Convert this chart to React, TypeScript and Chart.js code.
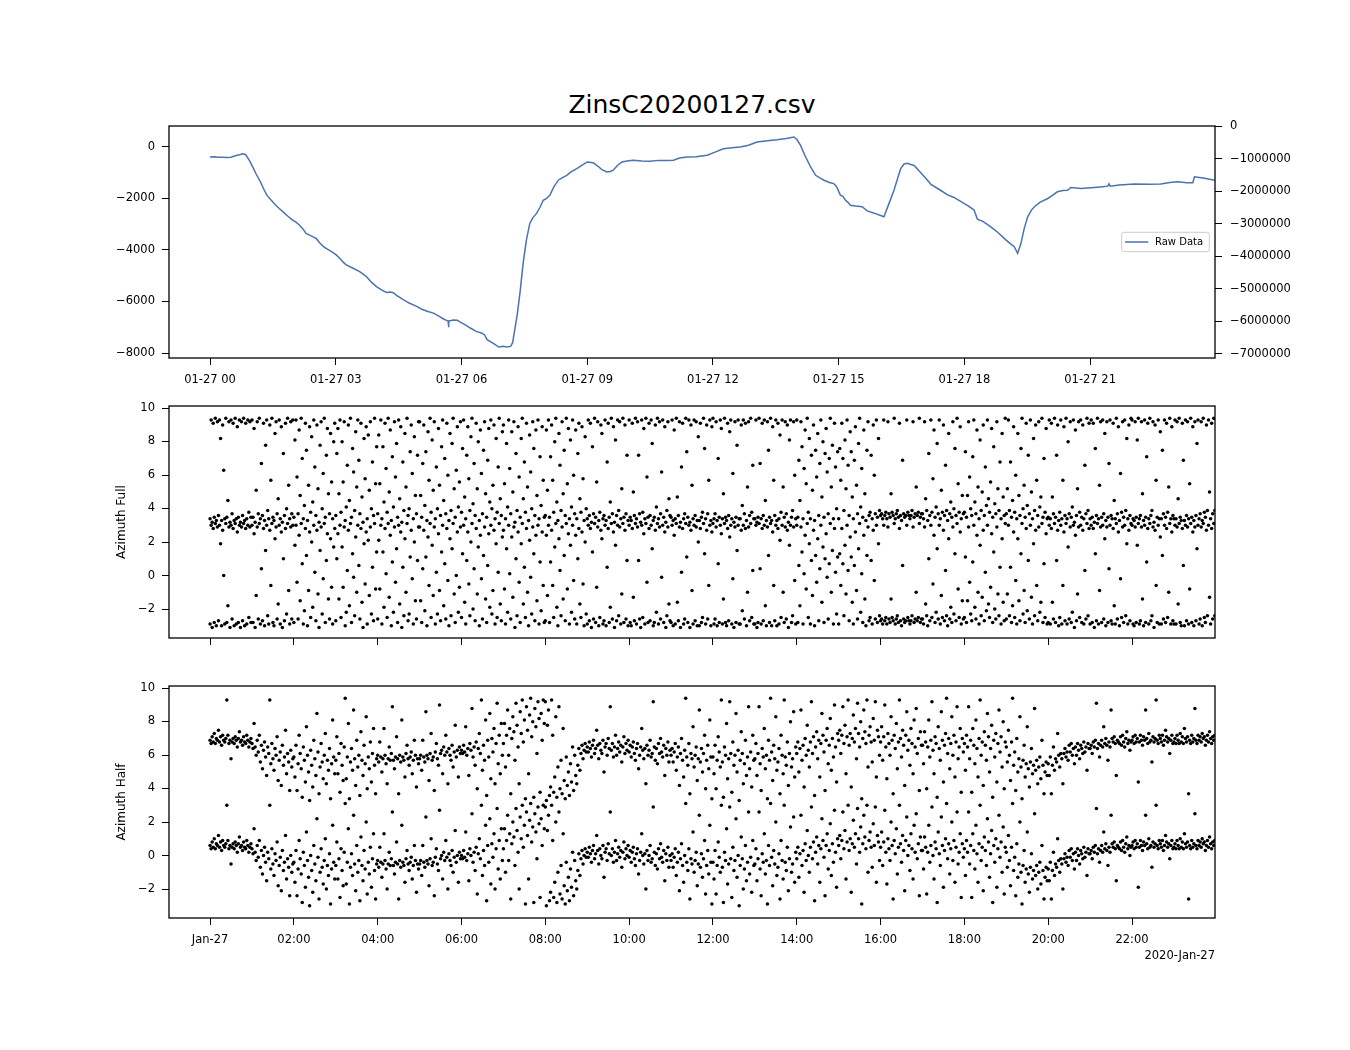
import { useEffect, useRef } from 'react';
import { Chart, registerables } from 'chart.js';

Chart.register(...registerables);

const FONT = 'DejaVu Sans';
const BLUE = '#4c72b0';
const TWO_PI = 2 * Math.PI;

// shared time range (hours since 2020-01-27 00:00)
const X_MIN = -0.98;
const X_MAX = 23.98;

// ---- top panel: raw data ----
const LINE_TIMES = [
  0, 0.1, 0.2, 0.3, 0.4, 0.5, 0.6, 0.7, 0.78, 0.85,
  0.95, 1.02, 1.1, 1.2, 1.3, 1.36, 1.45, 1.55, 1.65, 1.75,
  1.85, 1.97, 2.05, 2.13, 2.22, 2.29, 2.4, 2.53, 2.62, 2.7,
  2.77, 2.9, 3.01, 3.1, 3.18, 3.25, 3.4, 3.57, 3.73, 3.85,
  3.97, 4.1, 4.21, 4.3, 4.37, 4.45, 4.61, 4.75, 4.93, 5.05,
  5.2, 5.33, 5.45, 5.55, 5.65, 5.68, 5.69, 5.7, 5.81, 5.9,
  5.97, 6.1, 6.21, 6.35, 6.49, 6.55, 6.61, 6.75, 6.89, 7.0,
  7.08, 7.17, 7.22, 7.27, 7.33, 7.4, 7.47, 7.55, 7.63, 7.7,
  7.79, 7.87, 7.95, 8.03, 8.11, 8.2, 8.31, 8.4, 8.51, 8.62,
  8.75, 8.88, 9.0, 9.1, 9.15, 9.25, 9.35, 9.47, 9.55, 9.62,
  9.72, 9.83, 9.95, 10.1, 10.3, 10.5, 10.7, 10.9, 11.06, 11.2,
  11.38, 11.6, 11.86, 12.05, 12.25, 12.45, 12.65, 12.85, 13.05, 13.3,
  13.53, 13.75, 13.93, 14.0, 14.09, 14.2, 14.33, 14.45, 14.55, 14.65,
  14.78, 14.88, 14.93, 14.97, 15.04, 15.1, 15.16, 15.22, 15.28, 15.4,
  15.56, 15.68, 15.85, 16.0, 16.08, 16.2, 16.32, 16.4, 16.48, 16.56,
  16.64, 16.72, 16.8, 16.96, 17.12, 17.2, 17.43, 17.6, 17.75, 17.99,
  18.1, 18.23, 18.31, 18.45, 18.63, 18.8, 18.95, 19.1, 19.19, 19.27,
  19.35, 19.43, 19.51, 19.6, 19.67, 19.8, 19.99, 20.1, 20.22, 20.35,
  20.46, 20.54, 20.78, 21.1, 21.3, 21.42, 21.45, 21.48, 21.7, 22.05,
  22.4, 22.69, 22.9, 23.09, 23.3, 23.45, 23.49, 23.7, 23.97,
];
const LINE_VALUES = [
  -390, -380, -395, -400, -405, -395, -340, -300, -260, -300,
  -560, -780, -1050, -1350, -1700, -1880, -2050, -2230, -2390, -2530,
  -2680, -2840, -2920, -3030, -3190, -3360, -3440, -3550, -3730, -3860,
  -3940, -4060, -4190, -4330, -4480, -4580, -4700, -4840, -5030, -5250,
  -5420, -5560, -5650, -5630, -5660, -5760, -5930, -6060, -6190, -6300,
  -6390, -6450, -6560, -6660, -6740, -6750, -7000, -6760, -6720, -6730,
  -6800, -6920, -7030, -7160, -7230, -7300, -7480, -7620, -7770, -7740,
  -7770, -7745, -7600, -7100, -6500, -5600, -4520, -3600, -2970, -2750,
  -2580, -2350, -2070, -2000, -1870, -1560, -1290, -1200, -1100, -960,
  -840, -700, -580, -600, -620, -740, -880, -970, -950, -900,
  -720, -580, -540, -515, -540, -555, -520, -525, -515, -430,
  -390, -380, -320, -200, -70, -30, 0, 70, 190, 240,
  280, 330, 390, 300, 60, -350, -770, -1100, -1200, -1290,
  -1380, -1420, -1500, -1610, -1870, -1920, -2060, -2150, -2260, -2290,
  -2320, -2480, -2570, -2660, -2710, -2200, -1680, -1250, -840, -660,
  -630, -680, -720, -1000, -1290, -1450, -1680, -1860, -1960, -2190,
  -2300, -2450, -2800, -2900, -3100, -3320, -3550, -3760, -3870, -4130,
  -3740, -3150, -2710, -2450, -2320, -2150, -2000, -1880, -1740, -1690,
  -1680, -1570, -1610, -1570, -1540, -1520, -1430, -1520, -1480, -1440,
  -1450, -1440, -1380, -1350, -1390, -1390, -1160, -1200, -1290,
];

const TOP_X_TICKS = [0, 3, 6, 9, 12, 15, 18, 21];
const TOP_X_LABELS = ['01-27 00', '01-27 03', '01-27 06', '01-27 09', '01-27 12', '01-27 15', '01-27 18', '01-27 21'];
const TOP_Y_TICKS = [0, -2000, -4000, -6000, -8000];
const TOP_Y2_TICKS = [0, -1000000, -2000000, -3000000, -4000000, -5000000, -6000000, -7000000];

// ---- azimuth panels: one sample every 90 s, radians, one row per hour ----
const SAMPLE_STEP_H = 1 / 40;
const AZ_Y_TICKS = [10, 8, 6, 4, 2, 0, -2];
const BOTTOM_X_TICKS = [0, 2, 4, 6, 8, 10, 12, 14, 16, 18, 20, 22];
const BOTTOM_X_LABELS = ['Jan-27', '02:00', '04:00', '06:00', '08:00', '10:00', '12:00', '14:00', '16:00', '18:00', '20:00', '22:00'];

const AZIMUTH_FULL = [
  -2.9,3.0,-3.1,2.8,-2.8,3.1,-3.0,2.9,-2.7,3.0,1.9,-3.0,2.7,0.0,-2.9,3.1,-2.8,-1.8,2.9,-3.1,3.0,-2.6,2.8,-3.0,3.1,-2.9,2.6,-2.8,3.0,-3.1,2.9,-2.7,3.1,-3.0,2.8,-2.9,3.0,-2.5,2.9,-2.8,
  3.0,-2.8,2.5,-3.1,-1.2,2.9,-2.6,3.1,-2.9,0.4,-2.7,2.8,-3.0,1.5,3.0,-2.4,-2.9,2.7,-0.6,3.1,-2.8,-3.0,2.2,2.9,-2.6,-1.7,3.0,-2.9,2.6,-3.1,1.0,-2.7,2.8,-2.3,3.1,-0.9,-2.9,2.9,-2.6,3.0,
  -2.8,1.8,3.0,-0.4,-2.6,2.4,-1.5,3.1,0.7,-2.9,-2.1,2.8,1.2,-3.0,-0.9,2.6,-2.5,2.0,-1.9,3.0,0.2,-2.7,2.7,-1.1,-3.1,1.5,2.9,-2.3,-0.2,3.1,-2.8,0.9,2.5,-1.4,-2.6,2.2,-0.7,-2.9,1.7,2.8,
  -2.7,1.0,2.5,-1.4,3.0,-2.5,1.7,-0.7,2.9,-3.0,-2.2,0.3,2.7,-1.8,3.1,-2.8,1.3,-0.1,-2.4,2.3,-1.0,3.0,0.6,-2.6,2.8,-1.6,-3.1,1.9,-0.5,2.6,-2.9,2.1,-1.2,2.9,-2.3,0.5,-2.7,3.1,-0.8,1.4,
  -2.6,2.1,-0.8,3.0,-2.9,1.4,-1.9,2.8,0.1,-2.5,3.1,-1.3,2.4,-3.0,0.8,-2.2,2.9,-0.4,1.6,-2.8,3.0,-1.7,2.6,-3.1,0.5,-2.4,2.2,-1.0,3.1,-2.7,-2.3,1.1,2.7,-0.2,-2.9,2.0,-1.5,-2.6,0.9,2.9,
  2.9,-1.5,-2.8,0.4,2.7,-2.1,1.1,-3.0,2.3,-0.6,3.1,-2.5,1.8,-1.2,2.9,-2.9,0.2,-2.3,2.5,-0.9,-2.7,1.4,3.0,-1.8,0.7,-2.6,2.8,-0.3,-3.0,2.2,-2.4,1.6,3.1,-1.1,-2.8,0.0,2.6,-2.2,-0.7,2.9,
  -2.5,1.3,3.0,-1.6,-2.9,0.9,2.6,-0.5,-2.4,2.0,3.1,-2.0,0.4,-2.7,2.8,-1.1,1.7,-3.0,2.4,-0.2,-2.6,1.2,2.9,-1.4,-2.8,0.6,2.5,-1.9,3.0,-2.3,-0.9,2.7,-2.9,1.9,-2.5,0.2,3.1,-1.7,-2.7,2.3,
  2.7,-0.8,-2.9,1.6,-2.2,3.0,0.1,-2.6,2.3,-1.3,2.9,-3.1,1.0,-2.4,2.6,-0.4,-2.8,1.9,3.1,-1.7,0.5,-2.5,2.8,-1.0,-3.0,2.1,-0.1,-2.3,2.9,1.3,-2.7,2.4,-1.5,3.0,-2.9,0.8,-2.1,2.6,-0.6,-2.8,
  -2.7,2.4,-1.2,3.0,-2.8,0.8,2.7,-0.6,-2.5,1.7,3.1,-1.9,-3.0,2.2,0.3,-2.4,2.9,-1.4,1.2,-2.7,3.1,-0.8,2.5,-2.9,1.8,-2.2,3.0,-0.3,-2.6,2.4,-2.9,1.0,2.8,-1.7,-2.5,2.6,-0.5,-3.0,2.0,-2.3,
  -2.9,3.0,-2.7,2.8,-3.1,1.4,-2.6,3.1,-2.8,-0.7,2.9,-3.0,-2.5,2.7,2.2,-2.9,-2.7,3.0,-3.0,0.5,2.8,-2.8,-1.9,3.1,-2.6,2.6,-3.1,1.8,-2.7,3.0,-2.4,2.9,-2.9,-1.1,3.1,-2.8,2.7,-2.6,0.9,-3.0,
  3.0,-2.8,-3.0,2.8,-1.3,-2.7,3.1,-2.9,2.9,0.9,-2.6,-3.1,3.0,-2.5,2.5,-2.9,3.1,-0.4,-2.8,2.8,-2.7,3.0,1.6,-3.0,-2.8,2.7,-2.2,3.1,-2.9,2.9,-2.6,-0.1,3.0,-2.8,2.6,-3.1,-2.4,2.9,-1.7,-2.7,
  -2.8,3.0,-3.0,2.4,-2.9,3.1,-1.6,-2.7,2.9,-3.1,0.2,2.8,-2.9,-2.6,3.1,1.1,-2.8,3.0,-3.1,2.7,-0.9,-2.9,3.0,-2.7,2.9,-3.0,2.0,-3.0,2.8,-2.8,-2.5,3.1,1.3,-2.9,2.7,-2.6,-0.6,3.0,-3.0,2.6,
  3.1,-2.9,-2.6,2.9,-3.0,0.7,-2.8,3.0,2.5,-2.9,-1.4,3.1,-2.8,-3.0,2.8,-2.7,2.3,3.0,-2.9,-0.2,-3.1,2.9,-2.8,1.5,3.0,-2.9,-2.9,2.7,-2.1,3.0,-2.6,2.8,-3.0,-1.0,2.9,-2.7,3.1,-2.5,0.3,-2.9,
  -2.9,3.0,-3.1,-2.8,3.1,0.4,-2.9,2.8,-2.7,3.0,-1.8,-3.0,2.9,1.2,-2.8,3.1,-3.0,2.6,-0.6,-2.7,3.0,-3.0,2.8,-2.9,2.1,-2.5,3.0,-1.0,-2.8,2.9,-2.6,2.7,-3.1,1.8,3.0,-2.8,-2.4,2.9,-0.3,-2.9,
  3.0,-2.8,0.6,-1.8,2.9,1.4,-2.9,0.1,2.4,-0.8,3.1,-2.5,1.9,-2.9,0.9,-1.2,2.7,-3.0,1.2,-0.4,2.2,-2.7,0.4,3.0,-1.6,1.7,-2.8,1.0,2.5,-0.1,-2.6,0.7,3.1,-1.0,1.5,-2.9,2.8,0.2,-2.3,1.1,
  -2.9,1.3,-0.6,2.8,0.7,-2.4,1.8,-1.1,3.0,0.3,-2.7,2.3,1.1,-1.6,-2.9,0.6,2.6,-0.9,-2.6,1.6,3.1,-2.2,0.1,-2.8,2.4,-1.4,-3.0,1.2,2.9,-2.7,-2.5,0.9,-2.9,2.7,-0.3,-2.6,3.0,-2.8,1.9,-2.4,
  -2.7,-2.6,-2.9,3.0,-2.7,-2.5,-2.9,2.9,-2.6,-2.8,-1.4,-2.5,-2.7,3.1,-2.9,-2.6,-2.4,-2.8,2.8,-2.7,-3.0,0.6,-2.6,-2.8,-2.7,3.0,-2.5,-2.7,-2.9,-2.7,-2.4,2.9,-2.8,-2.6,-1.0,-2.7,-2.5,3.1,-2.8,-2.6,
  -2.6,-2.9,2.9,-1.7,-2.4,-3.0,1.0,-2.7,3.0,-2.5,-0.5,2.4,-2.8,-2.2,1.6,-2.6,3.0,-2.9,-1.2,-2.5,2.7,-2.7,0.3,-2.4,-3.0,2.2,-2.6,-1.9,-2.8,2.9,-2.3,1.3,-2.7,3.1,-0.8,-2.5,2.6,-2.9,-1.5,-2.6,
  -2.5,1.1,-2.8,-1.5,2.9,-0.4,-2.3,-2.7,0.8,3.0,-1.9,-2.6,2.4,-1.0,-2.9,1.8,-2.4,-1.3,2.7,-2.7,0.2,-2.1,3.0,-1.7,-2.5,-0.7,2.5,-2.8,1.4,-2.0,-2.6,2.9,-1.1,-2.4,0.5,-2.9,2.2,-1.6,-2.7,3.1,
  -2.6,-1.1,3.0,-2.4,0.5,-2.8,-1.8,2.6,-2.5,-0.3,-2.9,2.2,-1.5,-2.7,1.3,3.1,-2.3,-0.9,-2.8,2.8,-2.1,0.9,-2.6,3.0,-1.3,-2.9,1.9,-2.4,2.7,-0.6,-2.7,2.9,-2.2,-1.6,3.1,-2.8,0.7,-2.5,2.5,-2.9,
  -2.8,3.0,-2.9,2.8,-1.6,-2.6,3.1,-2.8,0.9,2.7,-3.0,-2.5,3.0,-2.9,-0.6,2.6,-2.7,3.1,-2.9,1.7,-2.6,2.9,-2.8,-2.2,3.0,-3.1,2.4,-2.7,-1.1,2.9,-2.5,3.0,-2.8,2.7,-2.9,0.3,-2.6,3.1,-2.4,2.8,
  -2.9,3.0,-2.8,2.8,-3.1,1.3,-2.7,3.1,-2.9,-0.9,2.9,-2.8,3.0,-2.6,2.2,-3.0,2.9,-2.8,0.4,3.0,-2.7,-2.9,2.8,-1.8,-2.9,3.1,-2.6,2.6,-3.0,-0.2,-2.5,2.9,-2.8,3.0,-2.4,1.9,-2.9,2.7,-2.7,3.1,
  3.0,-2.9,-3.0,2.9,-2.8,1.8,3.1,-2.9,-2.7,2.9,-1.4,-3.0,3.0,-2.8,0.8,2.8,-2.9,3.1,-2.7,-2.4,2.9,-3.1,2.7,-0.6,-2.8,3.0,-2.9,2.3,-2.9,1.2,-2.6,3.0,-2.8,2.8,-2.5,-1.0,3.1,-2.9,2.6,-2.7,
  -2.9,3.0,-2.9,2.9,-1.7,3.1,-2.8,-3.0,2.8,0.6,-3.0,3.0,-2.7,2.9,-2.9,-0.8,3.1,-2.8,2.6,-3.0,2.9,-2.7,1.6,3.0,-2.9,-2.6,2.9,-3.0,3.1,-2.5,-2.8,2.7,-2.4,3.0,-1.3,-2.9,2.8,-2.6,3.1,-2.4,
];

const AZIMUTH_HALF = [
  0.6,0.4,0.8,0.5,1.0,0.4,0.7,0.6,1.2,0.5,0.8,0.3,0.9,0.6,0.5,0.7,3.0,0.9,0.4,0.6,-0.5,0.5,0.7,0.4,0.8,0.6,0.2,0.7,1.1,0.5,0.6,0.3,0.8,0.5,0.4,0.9,0.6,0.2,0.5,0.7,
  0.4,0.1,1.6,0.2,-0.3,0.6,-0.1,0.9,-0.7,0.3,-1.1,0.0,0.5,-0.4,-1.5,0.2,-0.2,3.0,-0.8,0.4,-0.5,-1.2,0.1,-0.3,0.8,-1.8,-0.6,-0.1,-2.1,0.3,-0.9,-0.4,1.2,-1.4,-0.2,-0.7,-2.4,0.0,-1.0,-0.5,
  -0.4,-1.6,0.3,-2.4,-0.8,0.9,-0.2,-1.1,-2.8,0.2,-0.6,-1.9,1.4,-0.3,-1.3,-3.0,0.0,-0.9,-2.2,0.6,-0.5,-1.5,2.2,-0.1,-2.6,-1.0,0.4,-0.7,-1.7,-0.3,1.0,-2.0,-0.6,-1.2,0.1,-2.9,-0.8,1.8,-0.4,-1.4,
  -0.6,0.8,-1.4,-0.2,-2.5,0.4,-0.9,-1.8,0.2,3.1,-1.7,-0.4,1.6,-2.9,-0.7,0.1,-1.2,2.4,-0.5,-2.1,0.6,-1.0,-0.3,-2.7,1.1,-0.6,-1.5,0.3,-0.8,2.0,-2.3,-0.4,-1.1,0.5,-1.9,-0.2,1.3,-0.9,-2.6,-0.5,
  -0.3,-0.7,0.5,-0.4,-1.3,-0.5,1.3,-0.3,-0.8,-2.0,-0.5,0.2,-0.6,-0.2,2.6,-0.6,-1.1,-0.4,0.8,-0.5,-2.6,-0.3,-0.7,1.8,-0.4,-0.6,-1.6,-0.2,0.3,-0.5,-0.9,-0.4,-0.1,-1.4,-0.6,0.6,-0.3,-2.2,-0.5,-0.8,
  -0.5,-0.3,-1.2,0.6,-0.4,-0.7,2.3,-0.3,-0.5,-1.8,-0.2,1.0,-0.6,-0.4,-2.4,-0.1,0.4,-0.5,-0.9,2.7,-0.2,0.0,-1.4,0.2,-0.3,0.9,-0.1,-2.0,0.1,-0.3,-0.6,0.3,-1.0,-0.1,1.5,-0.4,0.0,-1.6,0.2,-0.2,
  0.0,-0.2,0.3,-0.1,1.4,-0.3,0.1,-1.5,0.4,0.0,2.5,-0.4,0.2,-0.9,0.5,-2.3,0.1,1.0,-0.2,3.0,-1.2,0.3,-0.6,1.8,-2.7,0.6,-0.4,2.2,-1.7,0.7,-0.1,1.3,-2.0,0.4,2.8,-0.8,0.9,-1.4,1.6,-0.3,
  0.4,1.6,-1.0,0.9,2.4,-0.3,1.3,-2.6,0.7,2.0,1.1,-0.6,2.8,1.5,0.2,-2.0,2.3,1.0,3.0,0.5,1.8,-2.9,2.6,1.2,-1.4,2.1,3.1,0.8,1.7,-2.8,2.5,1.4,-0.2,2.9,1.9,-2.5,2.2,0.6,3.0,1.6,
  2.9,-3.0,1.5,2.4,-2.7,-2.2,3.0,0.9,-2.5,-1.6,2.0,-2.8,-1.0,2.6,-2.3,-0.6,-2.6,1.3,-1.8,-2.9,-0.4,-2.1,-1.3,-2.7,-0.8,-1.9,0.2,-2.4,-0.3,-1.5,-2.0,-0.9,0.1,-1.2,-0.2,0.3,-0.5,0.0,0.4,-0.1,
  0.2,-0.1,0.5,0.1,-0.4,0.3,0.6,-0.2,0.1,1.2,0.3,-0.5,0.4,0.0,-0.2,0.6,-1.3,0.2,0.4,-0.3,0.7,0.1,2.6,0.0,0.4,-0.4,0.2,0.9,-0.3,0.1,0.5,-0.1,0.3,-0.7,0.2,0.8,-0.2,0.4,0.0,0.6,
  -0.1,0.3,-0.4,0.2,0.5,-0.2,-0.6,0.1,0.4,-1.1,-0.3,0.2,1.3,0.0,-0.5,0.1,-2.0,0.3,-0.3,0.0,0.6,-0.4,-0.2,2.9,0.2,-0.6,0.1,-0.8,0.4,-0.2,0.7,-0.1,-0.4,0.3,-1.5,0.1,-0.3,0.5,-0.7,0.0,
  -0.3,0.1,-0.7,-0.1,0.4,-1.2,-0.4,0.2,-2.1,-0.2,0.7,-0.6,-1.6,0.0,3.1,-0.4,-0.9,0.4,-2.6,-0.2,-0.5,1.4,-1.0,-0.3,0.2,-1.8,-0.5,2.4,-0.7,0.1,-1.3,-0.2,0.9,-2.3,-0.6,0.3,-1.1,1.8,-0.4,-2.9,
  -0.4,-1.4,0.3,-2.3,-0.6,0.8,-0.1,-1.0,3.0,-0.7,-2.8,0.2,-0.3,1.6,-1.7,-0.5,2.9,-0.2,-2.5,0.5,-0.9,-0.3,2.2,-1.3,0.0,-3.0,-0.6,1.1,-0.2,-2.0,-0.8,0.6,-1.5,-0.4,2.6,-1.1,-0.1,-2.2,0.9,-0.6,
  -0.5,0.4,-1.5,-0.2,2.6,-0.8,-2.4,0.1,-0.4,1.3,-1.1,-0.3,-2.9,0.6,-0.6,3.1,-0.1,-1.8,0.3,-0.5,2.0,-1.2,-0.7,0.1,-2.6,0.9,-0.3,-1.4,3.0,-0.4,-0.9,0.5,-2.1,-0.2,1.7,-1.0,-0.5,2.3,-1.6,0.2,
  -0.2,0.5,-1.3,0.1,2.4,-0.6,0.3,-2.2,0.7,-0.3,1.5,0.0,-1.0,0.5,2.9,-0.2,0.8,-2.7,0.2,1.1,-0.5,0.6,-1.6,0.4,2.2,0.9,-0.1,-2.4,0.6,1.3,-0.8,0.3,1.9,-1.2,0.7,-0.4,2.7,0.2,-1.9,1.0,
  0.6,1.2,-0.2,0.9,2.6,0.4,1.5,-1.4,0.8,3.0,0.3,1.0,-2.2,0.7,2.1,0.5,1.3,-0.5,2.8,1.0,0.2,1.7,-2.9,0.7,2.4,1.1,0.4,3.0,-1.0,0.9,1.4,0.5,-0.7,1.9,0.6,2.9,-1.6,1.2,0.8,-0.3,
  0.5,1.4,-0.6,0.8,2.7,0.2,-1.7,1.0,0.4,-0.3,2.0,0.6,-2.6,0.9,0.1,1.6,-1.1,0.5,3.0,0.7,-0.4,1.2,0.3,-2.1,0.9,2.3,0.0,0.6,-0.9,1.3,0.4,-1.4,1.8,0.2,2.5,-0.2,0.7,-2.4,1.1,0.3,
  0.3,-0.8,1.1,0.5,-2.3,0.2,1.8,-0.4,0.6,2.9,0.0,-1.4,0.8,0.4,-2.8,1.4,0.1,-0.6,2.3,0.6,-1.9,0.3,1.0,3.1,-0.2,0.7,-1.1,0.4,2.0,-0.3,0.9,-1.6,0.5,2.6,-0.5,0.2,1.3,-2.5,0.7,-0.1,
  0.4,-1.2,0.9,0.2,2.6,-0.5,0.6,-2.5,1.3,0.3,-0.8,1.8,0.1,-1.6,0.7,3.0,-0.3,0.5,-2.1,1.1,0.3,-0.6,2.2,0.8,-1.3,0.1,1.5,-2.8,0.6,-0.4,1.0,-1.9,0.4,2.4,-0.1,0.8,-1.0,1.7,-2.3,0.5,
  0.2,-0.7,1.2,-0.3,-1.8,0.5,3.1,-0.9,-0.1,-2.4,0.7,-1.3,-0.5,2.0,-1.0,-2.9,-0.6,0.3,-1.6,-0.8,1.4,-1.1,-2.2,-0.7,0.1,-1.4,-0.9,2.5,-1.2,-0.6,-2.0,-1.0,-0.4,-1.7,0.6,-0.9,-2.6,-1.3,-0.7,-1.5,
  -0.8,-1.5,-0.4,-2.6,-0.9,0.2,-1.2,-0.5,-0.7,1.0,-0.3,-1.0,-0.2,-0.5,-2.0,-0.2,0.1,-0.4,-0.1,-0.6,0.3,-0.1,0.4,-0.3,0.1,-0.8,0.2,-0.3,0.4,0.0,-0.5,0.3,0.1,-0.2,0.5,-0.1,0.2,-1.2,0.4,0.1,
  0.1,0.3,-0.2,0.5,0.2,0.6,2.8,0.1,0.4,-0.4,0.3,0.6,0.2,1.4,0.4,0.7,0.3,-0.6,0.5,0.2,2.4,0.7,0.5,0.8,0.4,-1.5,0.6,0.5,0.4,0.8,0.3,0.9,0.5,0.2,0.7,1.1,0.4,0.6,0.0,0.5,
  0.6,0.8,0.4,0.9,0.5,0.7,-1.9,0.5,0.9,0.6,0.3,0.8,0.6,2.4,0.7,0.4,1.0,0.5,0.6,-0.7,0.8,0.5,0.7,3.0,0.6,0.4,0.9,0.7,0.5,0.9,0.3,0.6,1.2,0.8,0.5,0.7,-0.2,0.6,0.9,0.4,
  0.5,0.7,0.4,0.9,0.6,0.4,1.0,0.5,0.8,0.4,1.3,0.7,0.5,0.8,-2.6,0.6,0.4,0.9,0.5,0.7,2.5,0.6,0.4,0.9,0.6,0.8,0.5,1.0,0.7,0.8,0.3,0.6,0.9,0.5,1.1,0.7,0.4,0.8,0.6,0.9,
];

function fmtNum(v: number) {
  return String(v).replace('-', '\u2212');
}

// each angle is drawn twice: as read and one full turn up
function azimuthPoints(values: number[]) {
  const pts: { x: number; y: number }[] = [];
  values.forEach((v, i) => {
    const t = i * SAMPLE_STEP_H;
    pts.push({ x: t, y: v }, { x: t, y: v + TWO_PI });
  });
  return pts;
}

const tickFont = { family: FONT, size: 11.5 };

function tickGrid() {
  return { drawOnChartArea: false, drawTicks: true, tickLength: 7, color: '#000', lineWidth: 1 };
}

function fixedTicks(values: number[]) {
  return (scale: any) => {
    scale.ticks = values.map((value) => ({ value }));
  };
}

const framePlugin = {
  id: 'frame',
  afterDatasetsDraw(chart: any) {
    const { ctx, chartArea: a } = chart;
    ctx.save();
    ctx.strokeStyle = '#000';
    ctx.lineWidth = 1.3;
    ctx.strokeRect(a.left, a.top, a.right - a.left, a.bottom - a.top);
    ctx.restore();
  },
};

const legendPlugin = {
  id: 'rawLegend',
  afterDraw(chart: any) {
    const { ctx, chartArea: a } = chart;
    const w = 87.6;
    const h = 19.4;
    const left = a.right - 5.7 - w;
    const top = (a.top + a.bottom) / 2 - h / 2;
    const mid = top + h / 2;
    ctx.save();
    ctx.fillStyle = 'rgba(255,255,255,0.8)';
    ctx.strokeStyle = '#cccccc';
    ctx.lineWidth = 1;
    ctx.beginPath();
    ctx.roundRect(left, top, w, h, 2);
    ctx.fill();
    ctx.stroke();
    ctx.strokeStyle = BLUE;
    ctx.lineWidth = 1.5;
    ctx.beginPath();
    ctx.moveTo(left + 3.3, mid);
    ctx.lineTo(left + 26.6, mid);
    ctx.stroke();
    ctx.fillStyle = '#000';
    ctx.font = `10px ${FONT}`;
    ctx.textBaseline = 'middle';
    ctx.fillText(chart.data.datasets[0].label, left + 33.3, mid + 0.5);
    ctx.restore();
  },
};

function azimuthConfig(values: number[], label: string, top: number, bottom: number, showLabels: boolean, xHeight: number): any {
  return {
    type: 'scatter',
    data: {
      datasets: [
        {
          label,
          data: azimuthPoints(values),
          pointRadius: 1.75,
          pointBackgroundColor: '#000',
          pointBorderWidth: 0,
        },
      ],
    },
    options: {
      animation: false,
      responsive: true,
      maintainAspectRatio: false,
      layout: { padding: { left: 115, top, right: 135, bottom: 1050 - bottom - xHeight } },
      plugins: { legend: { display: false }, tooltip: { enabled: false } },
      scales: {
        x: {
          type: 'linear',
          min: X_MIN,
          max: X_MAX,
          afterBuildTicks: fixedTicks(BOTTOM_X_TICKS),
          afterFit: (s: any) => {
            s.height = xHeight;
          },
          ticks: {
            autoSkip: false,
            maxRotation: 0,
            padding: 8.5,
            color: '#000',
            font: tickFont,
            callback: (v: any) => (showLabels ? BOTTOM_X_LABELS[BOTTOM_X_TICKS.indexOf(Number(v))] ?? '' : ''),
          },
          title: {
            display: showLabels,
            text: '2020-Jan-27',
            align: 'end',
            color: '#000',
            font: tickFont,
            padding: 0,
          },
          grid: tickGrid(),
          border: { display: false },
        },
        y: {
          min: -3.73,
          max: 10.12,
          afterBuildTicks: fixedTicks(AZ_Y_TICKS),
          afterFit: (s: any) => {
            s.width = 54;
          },
          ticks: { padding: 7, color: '#000', font: tickFont, callback: (v: any) => fmtNum(Number(v)) },
          title: { display: true, text: label, color: '#000', font: { family: FONT, size: 12 }, padding: 0 },
          grid: tickGrid(),
          border: { display: false },
        },
      },
    },
    plugins: [framePlugin],
  };
}

const layerStyle: React.CSSProperties = { position: 'absolute', left: 0, top: 0, width: 1350, height: 1050 };

export default function App() {
  const topRef = useRef<HTMLCanvasElement>(null);
  const fullRef = useRef<HTMLCanvasElement>(null);
  const halfRef = useRef<HTMLCanvasElement>(null);

  useEffect(() => {
    const charts: Chart[] = [];

    if (topRef.current) {
      charts.push(
        new Chart(topRef.current, {
          type: 'line',
          data: {
            datasets: [
              {
                label: 'Raw Data',
                data: LINE_TIMES.map((t, i) => ({ x: t, y: LINE_VALUES[i] })),
                borderColor: BLUE,
                borderWidth: 1.5,
                pointRadius: 0,
                fill: false,
                tension: 0,
                yAxisID: 'y',
              },
            ],
          },
          options: {
            animation: false,
            responsive: true,
            maintainAspectRatio: false,
            layout: { padding: { left: 0, top: 126, right: 0, bottom: 1050 - 358 - 30 } },
            plugins: { legend: { display: false }, tooltip: { enabled: false } },
            scales: {
              x: {
                type: 'linear',
                min: X_MIN,
                max: X_MAX,
                afterBuildTicks: fixedTicks(TOP_X_TICKS),
                afterFit: (s: any) => {
                  s.height = 30;
                },
                ticks: {
                  autoSkip: false,
                  maxRotation: 0,
                  padding: 8.5,
                  color: '#000',
                  font: tickFont,
                  callback: (v: any) => TOP_X_LABELS[TOP_X_TICKS.indexOf(Number(v))] ?? '',
                },
                grid: tickGrid(),
                border: { display: false },
              },
              y: {
                position: 'left',
                min: -8194,
                max: 815,
                afterBuildTicks: fixedTicks(TOP_Y_TICKS),
                afterFit: (s: any) => {
                  s.width = 169;
                },
                ticks: { padding: 7, color: '#000', font: tickFont, callback: (v: any) => fmtNum(Number(v)) },
                grid: tickGrid(),
                border: { display: false },
              },
              y2: {
                position: 'right',
                min: -7123000,
                max: 0,
                afterBuildTicks: fixedTicks(TOP_Y2_TICKS),
                afterFit: (s: any) => {
                  s.width = 135;
                },
                ticks: { padding: 8, color: '#000', font: tickFont, callback: (v: any) => fmtNum(Number(v)) },
                grid: tickGrid(),
                border: { display: false },
              },
            },
          },
          plugins: [framePlugin, legendPlugin],
        } as any)
      );
    }

    if (fullRef.current) {
      charts.push(new Chart(fullRef.current, azimuthConfig(AZIMUTH_FULL, 'Azimuth Full', 406, 638, false, 20)));
    }
    if (halfRef.current) {
      charts.push(new Chart(halfRef.current, azimuthConfig(AZIMUTH_HALF, 'Azimuth Half', 686, 918, true, 45)));
    }

    return () => {
      charts.forEach((c) => c.destroy());
    };
  }, []);

  return (
    <div style={{ ...layerStyle, background: '#fff' }}>
      <div
        style={{
          position: 'absolute',
          left: 0,
          top: 89.6,
          width: 1384,
          textAlign: 'center',
          fontFamily: FONT,
          fontSize: 25,
          lineHeight: '30px',
          color: '#000',
        }}
      >
        ZinsC20200127.csv
      </div>
      <div style={layerStyle}>
        <canvas ref={topRef} />
      </div>
      <div style={layerStyle}>
        <canvas ref={fullRef} />
      </div>
      <div style={layerStyle}>
        <canvas ref={halfRef} />
      </div>
    </div>
  );
}
